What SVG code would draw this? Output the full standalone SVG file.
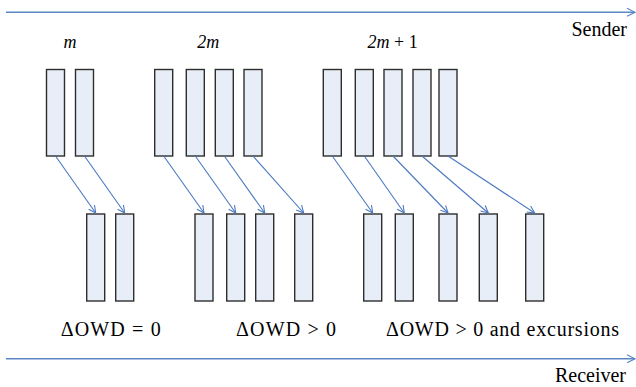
<svg xmlns="http://www.w3.org/2000/svg" width="636" height="387" viewBox="0 0 636 387">
<style>
.pkt{fill:#e8eef7;stroke:#2e2e2e;stroke-width:1.4}
.ax{stroke:#5b87c5;stroke-width:1.6;fill:none}
.cn{stroke:#4a78c0;stroke-width:1.1;fill:none}
</style>
<defs>
<marker id="oa" viewBox="0 0 10 10" refX="9" refY="5" markerWidth="9" markerHeight="9" markerUnits="userSpaceOnUse" orient="auto">
<path d="M1,1 L9,5 L1,9" fill="none" stroke="#4a78c0" stroke-width="1.2"/>
</marker>
<marker id="ab" viewBox="0 0 10 10" refX="9" refY="5" markerWidth="10" markerHeight="10" markerUnits="userSpaceOnUse" orient="auto">
<path d="M1,1 L9,5 L1,9" fill="none" stroke="#5b87c5" stroke-width="1.2"/>
</marker>
</defs>
<g id="axes">
<line class="ax" x1="6" y1="12.3" x2="635" y2="12.3" marker-end="url(#ab)"/>
<line class="ax" x1="6" y1="358.8" x2="635" y2="358.8" marker-end="url(#ab)"/>
</g>
<g id="labels">
<text font-family="Liberation Serif, serif" font-size="20" x="627" y="36" text-anchor="end">Sender</text>
<text font-family="Liberation Serif, serif" font-size="20" x="626" y="382" text-anchor="end">Receiver</text>
<text font-family="Liberation Serif, serif" font-size="18" font-style="italic" x="70" y="47.5" text-anchor="middle">m</text>
<text font-family="Liberation Serif, serif" font-size="18" font-style="italic" x="208.3" y="47.5" text-anchor="middle">2m</text>
<text font-family="Liberation Serif, serif" font-size="18" x="392.7" y="47.5" text-anchor="middle"><tspan font-style="italic">2m</tspan> + 1</text>
<text font-family="Liberation Serif, serif" font-size="20" x="60.7" y="336" textLength="100" lengthAdjust="spacing">&#916;OWD = 0</text>
<text font-family="Liberation Serif, serif" font-size="20" x="236" y="336" textLength="100" lengthAdjust="spacing">&#916;OWD &gt; 0</text>
<text font-family="Liberation Serif, serif" font-size="20" x="386" y="336" textLength="233" lengthAdjust="spacing">&#916;OWD &gt; 0 and excursions</text>
</g>
<g id="sent">
<rect id="s1" class="pkt" x="46.5" y="69.5" width="18" height="86.5"/>
<rect id="s2" class="pkt" x="75.5" y="69.5" width="18" height="86.5"/>
<rect id="s3" class="pkt" x="154.7" y="69.5" width="18" height="86.5"/>
<rect id="s4" class="pkt" x="186.3" y="69.5" width="18" height="86.5"/>
<rect id="s5" class="pkt" x="215.3" y="69.5" width="18" height="86.5"/>
<rect id="s6" class="pkt" x="244" y="69.5" width="18" height="86.5"/>
<rect id="s7" class="pkt" x="323.3" y="69.5" width="18" height="86.5"/>
<rect id="s8" class="pkt" x="355.3" y="69.5" width="18" height="86.5"/>
<rect id="s9" class="pkt" x="384" y="69.5" width="18" height="86.5"/>
<rect id="s10" class="pkt" x="413" y="69.5" width="18" height="86.5"/>
<rect id="s11" class="pkt" x="439" y="69.5" width="18" height="86.5"/>
</g>
<g id="received">
<rect id="r1" class="pkt" x="86.7" y="214" width="18" height="87"/>
<rect id="r2" class="pkt" x="115.7" y="214" width="18" height="87"/>
<rect id="r3" class="pkt" x="195" y="214" width="18" height="87"/>
<rect id="r4" class="pkt" x="226.7" y="214" width="18" height="87"/>
<rect id="r5" class="pkt" x="255.7" y="214" width="18" height="87"/>
<rect id="r6" class="pkt" x="294.7" y="214" width="18" height="87"/>
<rect id="r7" class="pkt" x="363.7" y="214" width="18" height="87"/>
<rect id="r8" class="pkt" x="395.3" y="214" width="18" height="87"/>
<rect id="r9" class="pkt" x="439" y="214" width="18" height="87"/>
<rect id="r10" class="pkt" x="479.3" y="214" width="18" height="87"/>
<rect id="r11" class="pkt" x="525.7" y="214" width="18" height="87"/>
</g>
<g id="connectors">
<line class="cn" x1="55.5" y1="156" x2="95.7" y2="213" marker-end="url(#oa)"/>
<line class="cn" x1="84.5" y1="156" x2="124.7" y2="213" marker-end="url(#oa)"/>
<line class="cn" x1="163.7" y1="156" x2="204" y2="213" marker-end="url(#oa)"/>
<line class="cn" x1="195.3" y1="156" x2="235.7" y2="213" marker-end="url(#oa)"/>
<line class="cn" x1="224.3" y1="156" x2="264.7" y2="213" marker-end="url(#oa)"/>
<line class="cn" x1="253" y1="156" x2="303.7" y2="213" marker-end="url(#oa)"/>
<line class="cn" x1="332.3" y1="156" x2="372.7" y2="213" marker-end="url(#oa)"/>
<line class="cn" x1="364.3" y1="156" x2="404.3" y2="213" marker-end="url(#oa)"/>
<line class="cn" x1="393" y1="156" x2="448" y2="213" marker-end="url(#oa)"/>
<line class="cn" x1="422" y1="156" x2="488.3" y2="213" marker-end="url(#oa)"/>
<line class="cn" x1="448" y1="156" x2="534.7" y2="213" marker-end="url(#oa)"/>
</g>
</svg>
